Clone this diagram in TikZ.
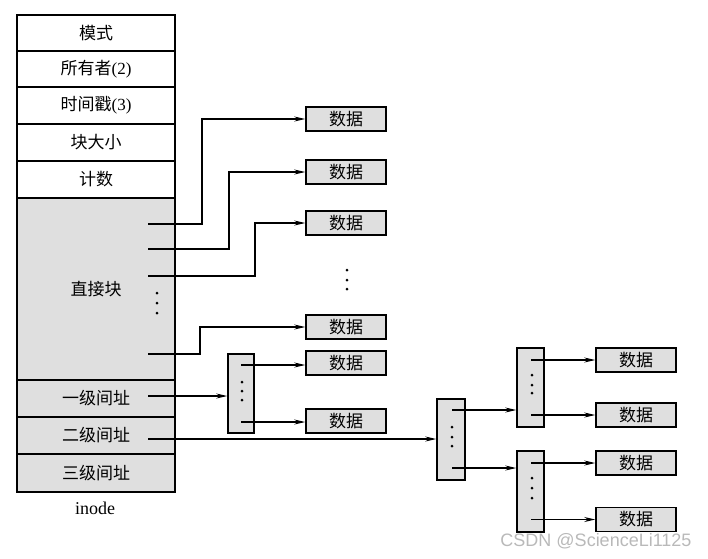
\documentclass[tikz,border=0pt]{standalone}
\usepackage{fontspec}
\setmainfont{Liberation Serif}
\newfontfamily\cjk{Noto Sans CJK SC}
\newfontfamily\wmfont{Liberation Sans}
\usetikzlibrary{arrows.meta}
\begin{document}
\begin{tikzpicture}[x=1pt,y=-1pt,
  row/.style={draw, line width=1.3pt, minimum width=158pt, inner sep=0pt, font=\fontsize{17}{19}\selectfont},
  shaded/.style={fill=gray!25},
  databox/.style={draw, line width=1.5pt, fill=gray!25, minimum width=80pt, minimum height=24pt, inner sep=0pt, font=\cjk\fontsize{17}{19}\selectfont},
  ptrblock/.style={draw, line width=1.5pt, fill=gray!25, inner sep=0pt},
  link/.style={line width=1.1pt},
  arr/.style={link, -{Stealth[length=11pt,width=5pt]}},
  dotm/.style={circle, fill=black, inner sep=0pt, minimum size=3pt},
]
\useasboundingbox (0,0) rectangle (708,558);

% inode table
\node[row, minimum height=36pt] (mode) at (96,33) {\cjk 模式};
\node[row, minimum height=36pt] (owner) at (96,69) {{\cjk 所有者}(2)};
\node[row, minimum height=37pt] (stamp) at (96,105.5) {{\cjk 时间戳}(3)};
\node[row, minimum height=37pt] (bsize) at (96,142.5) {\cjk 块大小};
\node[row, minimum height=37pt] (count) at (96,179.5) {\cjk 计数};
\node[row, shaded, minimum height=182pt] (direct) at (96,289) {\cjk 直接块};
\node[row, shaded, minimum height=37pt] (ind1) at (96,398.5) {\cjk 一级间址};
\node[row, shaded, minimum height=37pt] (ind2) at (96,435.5) {\cjk 二级间址};
\node[row, shaded, minimum height=38pt] (ind3) at (96,473) {\cjk 三级间址};
\node[font=\fontsize{18}{20}\selectfont] (lbl) at (95,508) {inode};

% dots in direct block
\node[dotm] (dd1) at (157,293) {};
\node[dotm] (dd2) at (157,303) {};
\node[dotm] (dd3) at (157,313) {};

% data boxes (direct)
\node[databox] (data1) at (346,119) {数据};
\node[databox] (data2) at (346,172) {数据};
\node[databox] (data3) at (346,223) {数据};
\node[databox] (data4) at (346,327) {数据};
\node[dotm] (vd1) at (347,270) {};
\node[dotm] (vd2) at (347,280) {};
\node[dotm] (vd3) at (347,289) {};

% single indirect
\node[ptrblock, minimum width=26pt, minimum height=79pt] (I1) at (241,393.5) {};
\node[databox] (data5) at (346,363) {数据};
\node[databox] (data6) at (346,421) {数据};
\node[dotm] (id1) at (242,382) {};
\node[dotm] (id2) at (242,391) {};
\node[dotm] (id3) at (242,400) {};

% double indirect
\node[ptrblock, minimum width=28pt, minimum height=81pt] (D) at (451,439.5) {};
\node[dotm] (dt1) at (452,427) {};
\node[dotm] (dt2) at (452,437) {};
\node[dotm] (dt3) at (452,446) {};
\node[ptrblock, minimum width=27pt, minimum height=79pt] (S1) at (530.5,387.5) {};
\node[ptrblock, minimum width=27pt, minimum height=81pt] (S2) at (530.5,491.5) {};
\node[dotm] (s1d1) at (532,375) {};
\node[dotm] (s1d2) at (532,385) {};
\node[dotm] (s1d3) at (532,393) {};
\node[dotm] (s2d1) at (532,478) {};
\node[dotm] (s2d2) at (532,488) {};
\node[dotm] (s2d3) at (532,498) {};
\node[databox] (data7) at (636,360) {数据};
\node[databox] (data8) at (636,415) {数据};
\node[databox] (data9) at (636,463) {数据};
\node[databox] (data10) at (636,519.5) {数据};

% stub coordinates
\coordinate (d1) at (148,224);
\coordinate (d2) at (148,249);
\coordinate (d3) at (148,276);
\coordinate (d4) at (148,354);
\coordinate (p1) at (148,396);
\coordinate (p2) at (148,439);
\coordinate (i1a) at (241,365);
\coordinate (i1b) at (241,422);
\coordinate (da) at (452,410);
\coordinate (db) at (452,468);
\coordinate (s1a) at (531,360);
\coordinate (s1b) at (531,415);
\coordinate (s2a) at (531,463);
\coordinate (s2b) at (531,519.5);

% connectors
\draw[arr] (d1) -- (202,224) |- (data1.west);
\draw[arr] (d2) -- (229,249) |- (data2.west);
\draw[arr] (d3) -- (255,276) |- (data3.west);
\draw[arr] (d4) -- (200,354) |- (data4.west);
\draw[arr] (p1) -- (p1 -| I1.west);
\draw[arr] (p2) -- (p2 -| D.west);
\draw[arr] (i1a) -- (i1a -| data5.west);
\draw[arr] (i1b) -- (i1b -| data6.west);
\draw[arr] (da) -- (da -| S1.west);
\draw[arr] (db) -- (db -| S2.west);
\draw[arr] (s1a) -- (data7.west);
\draw[arr] (s1b) -- (data8.west);
\draw[arr] (s2a) -- (data9.west);
\draw[arr] (s2b) -- (data10.west);

% watermark
\node[text=gray!55, font=\wmfont\fontsize{18}{20}\selectfont] (wm) at (596,541) {CSDN @ScienceLi1125};
\end{tikzpicture}
\end{document}
